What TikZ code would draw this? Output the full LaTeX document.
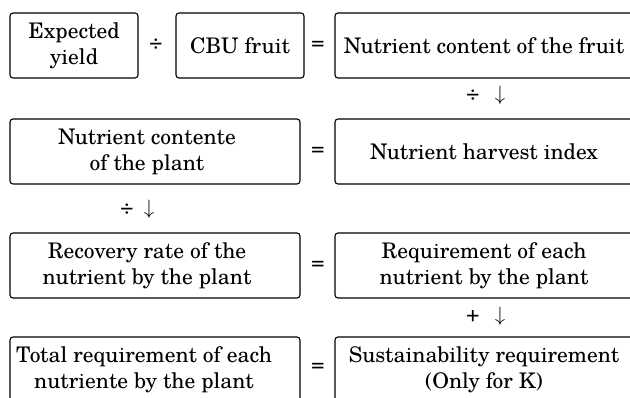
\documentclass[tikz,border=0pt]{standalone}
\usepackage{fontspec}
\setmainfont{TeX Gyre Schola}
\begin{document}
\begin{tikzpicture}[x=1pt,y=-1pt,
  box/.style={draw, rounded corners=3pt, line width=1.1pt, inner sep=0pt, minimum height=65pt},
  txt/.style={align=center, font=\fontsize{21.5}{26}\selectfont, inner sep=0pt},
  op/.style={font=\fontsize{21.5}{26}\selectfont, inner sep=0pt}]
\useasboundingbox (0,0) rectangle (630,397);
\clip (0,0) rectangle (630,397);
% row 1
\node[box, txt, minimum width=128pt] (b1a) at (74,45.5) {Expected\\yield};
\node[op] (d1) at (156,44) {÷};
\node[box, txt, minimum width=128pt] (b1b) at (240,45.5) {CBU fruit};
\node[op] (e1) at (318,45.5) {=};
\node[box, txt, minimum width=298pt] (b1c) at (484,45.5) {Nutrient content of the fruit};
\node[op] (d1r) at (473,95) {÷};
\node[op] (a1r) at (500,95) {$\downarrow$};
% row 2
\node[box, minimum width=290pt] (b2a) at (155,151.5) {};
\node[txt] (t2a) at (147,151.5) {Nutrient contente\\of the plant};
\node[op] (e2) at (318,151.5) {=};
\node[box, txt, minimum width=298pt] (b2b) at (484,151.5) {Nutrient harvest index};
\node[op] (d2l) at (127,209) {÷};
\node[op] (a2l) at (149,209) {$\downarrow$};
% row 3
\node[box, minimum width=290pt] (b3a) at (155,265.5) {};
\node[txt] (t3a) at (147,265.5) {Recovery rate of the\\nutrient by the plant};
\node[op] (e3) at (318,265.5) {=};
\node[box, txt, minimum width=298pt] (b3b) at (484,265.5) {Requirement of each\\nutrient by the plant};
\node[op] (p3r) at (473,316) {+};
\node[op] (a3r) at (500,316) {$\downarrow$};
% row 4
\node[box, minimum width=290pt] (b4a) at (155,369.5) {};
\node[txt] (t4a) at (144,369.5) {Total requirement of each\\nutriente by the plant};
\node[op] (e4) at (318,367) {=};
\node[box, txt, minimum width=298pt] (b4b) at (484,369.5) {Sustainability requirement\\(Only for K)};
\end{tikzpicture}
\end{document}
